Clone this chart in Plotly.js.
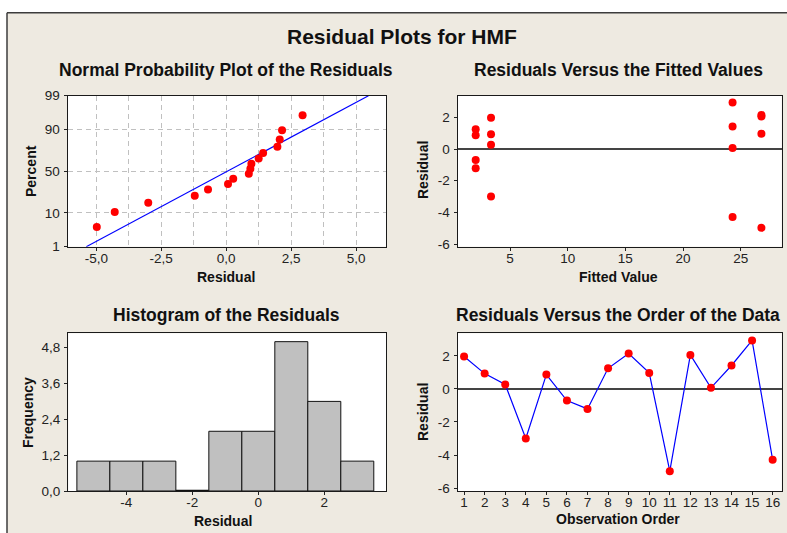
<!DOCTYPE html>
<html><head><meta charset="utf-8">
<script src="https://cdn.plot.ly/plotly-3.0.1.min.js"></script>
<style>html,body{margin:0;padding:0;background:#fff}#chart{width:787px;height:533px}</style>
</head><body><div id="chart"></div>
<script>
// ---- data ----
const observation = [1,2,3,4,5,6,7,8,9,10,11,12,13,14,15,16];
const residuals = [1.97,0.93,0.27,-3.00,0.87,-0.70,-1.21,1.25,2.15,0.97,-4.98,2.06,0.07,1.42,2.94,-4.29];
const fittedValues = [3.35,3.35,3.35,3.35,2.02,2.02,2.02,2.02,26.8,26.8,26.8,26.8,24.3,24.3,24.3,24.3];

const percentTicks = [1,10,50,90,99];
const percentLabels = ['1','10','50','90','99'];
const nppXTicks = [-5,-2.5,0,2.5,5];
const nppXLabels = ['-5,0','-2,5','0,0','2,5','5,0'];
const fitXTicks = [5,10,15,20,25];
const fitXLabels = ['5','10','15','20','25'];
const residTicks = [-6,-4,-2,0,2];
const residLabels = ['-6','-4','-2','0','2'];
const histXTicks = [-4,-2,0,2];
const histXLabels = ['-4','-2','0','2'];
const freqTicks = [0,1.2,2.4,3.6,4.8];
const freqLabels = ['0,0','1,2','2,4','3,6','4,8'];
const orderLabels = observation.map(String);
const histBinStart = -5.5, histBinEnd = 3.5, histBinSize = 1;

// ---- helpers ----
function normInv(p){
 const a=[-3.969683028665376e+01,2.209460984245205e+02,-2.759285104469687e+02,1.383577518672690e+02,-3.066479806614716e+01,2.506628277459239e+00];
 const b=[-5.447609879822406e+01,1.615858368580409e+02,-1.556989798598866e+02,6.680131188771972e+01,-1.328068155288572e+01];
 const c=[-7.784894002430293e-03,-3.223964580411365e-01,-2.400758277161838e+00,-2.549732539343734e+00,4.374664141464968e+00,2.938163982698783e+00];
 const d=[7.784695709041462e-03,3.224671290700398e-01,2.445134137142996e+00,3.754408661907416e+00];
 const pl=0.02425, ph=1-pl; let q,r;
 if(p<pl){q=Math.sqrt(-2*Math.log(p));return (((((c[0]*q+c[1])*q+c[2])*q+c[3])*q+c[4])*q+c[5])/((((d[0]*q+d[1])*q+d[2])*q+d[3])*q+1);}
 if(p<=ph){q=p-0.5;r=q*q;return (((((a[0]*r+a[1])*r+a[2])*r+a[3])*r+a[4])*r+a[5])*q/(((((b[0]*r+b[1])*r+b[2])*r+b[3])*r+b[4])*r+1);}
 q=Math.sqrt(-2*Math.log(1-p));return -(((((c[0]*q+c[1])*q+c[2])*q+c[3])*q+c[4])*q+c[5])/((((d[0]*q+d[1])*q+d[2])*q+d[3])*q+1);
}
const n = residuals.length;
const sorted = residuals.slice().sort((u,v)=>u-v);
const nppZ = sorted.map((v,i)=>normInv((i+1-0.3)/(n+0.4)));
const mean = residuals.reduce((s,v)=>s+v,0)/n;
const sd = Math.sqrt(residuals.reduce((s,v)=>s+(v-mean)*(v-mean),0)/(n-1));
const zLo = normInv(percentTicks[0]/100), zHi = normInv(percentTicks[percentTicks.length-1]/100);
const lineZ = [zLo, zHi];
const lineX = lineZ.map(z=>mean+sd*z);

// zero-count histogram bins (drawn as flat outlines)
const zeroBinShapes = [];
for(let e=histBinStart; e<histBinEnd-1e-9; e+=histBinSize){
  const cnt = residuals.filter(v=>v>=e && v<e+histBinSize).length;
  if(cnt===0) zeroBinShapes.push({type:'line',xref:'x3',yref:'y3',x0:e,x1:e+histBinSize,y0:0,y1:0,line:{color:'#111',width:2.5},layer:'above'});
}

// ---- layout helpers ----
const W=787,H=533;
const FONT='Liberation Sans, Arial, sans-serif';
const px=x=>x/W, py=y=>1-y/H;
const tickfont={family:FONT,size:13.5,color:'#222'};
function ax(extra){
  return Object.assign({showline:true,mirror:true,linecolor:'#1a1a1a',linewidth:1.2,ticks:'outside',ticklen:3,tickcolor:'#222',
    tickfont:tickfont,showgrid:false,zeroline:false,tickmode:'array',fixedrange:true},extra);
}
function xax(extra){ return ax(Object.assign({ticklabelstandoff:-4},extra)); }
function yax(extra){ return ax(Object.assign({ticklabelstandoff:1},extra)); }
const GRID='#c0c0c0', GDASH='5px,4px';
function ann(text,x,y,size,angle){
  return {text:'<b>'+text+'</b>',xref:'paper',yref:'paper',x:px(x),y:py(y),xanchor:'center',yanchor:'middle',
    showarrow:false,textangle:angle||0,font:{family:FONT,size:size,color:'#111'}};
}

const traces = [
  {type:'scatter',mode:'lines',x:lineX,y:lineZ,xaxis:'x',yaxis:'y',line:{color:'#0000ff',width:1.2},hoverinfo:'skip'},
  {type:'scatter',mode:'markers',x:sorted,y:nppZ,xaxis:'x',yaxis:'y',marker:{color:'#ff0000',size:8}},
  {type:'scatter',mode:'markers',x:fittedValues,y:residuals,xaxis:'x2',yaxis:'y2',marker:{color:'#ff0000',size:8}},
  {type:'histogram',x:residuals,xaxis:'x3',yaxis:'y3',xbins:{start:histBinStart,end:histBinEnd,size:histBinSize},
    marker:{color:'#c0c0c0',line:{color:'#111',width:1}}},
  {type:'scatter',mode:'lines+markers',x:observation,y:residuals,xaxis:'x4',yaxis:'y4',
    line:{color:'#0000ff',width:1.2},marker:{color:'#ff0000',size:8}}
];

const dom1x=[px(67.7),px(386)], dom2x=[px(457.7),px(781.7)];
const domTop=[py(246.7),py(95.7)], domBot=[py(491),py(333.3)];
const dom3x=[px(68.3),px(386)];

const layout = {
  width:W,height:H,margin:{l:0,r:0,t:0,b:0},
  paper_bgcolor:'#eeeae1',plot_bgcolor:'#ffffff',showlegend:false,
  font:{family:FONT,color:'#222'},
  xaxis: xax({domain:dom1x,anchor:'y',range:[-6.1,6.15],tickvals:nppXTicks,ticktext:nppXLabels,
    showgrid:true,gridcolor:GRID,griddash:GDASH,gridwidth:1,
    minor:{tickmode:'linear',tick0:0,dtick:1.25,showgrid:true,gridcolor:GRID,griddash:GDASH,gridwidth:1,ticks:''}}),
  yaxis: yax({domain:domTop,anchor:'x',range:[zLo,zHi],tickvals:percentTicks.map(p=>normInv(p/100)),ticktext:percentLabels,
    showgrid:true,gridcolor:GRID,griddash:GDASH,gridwidth:1}),
  xaxis2: xax({domain:dom2x,anchor:'y2',range:[0.46,28.56],tickvals:fitXTicks,ticktext:fitXLabels}),
  yaxis2: yax({domain:domTop,anchor:'x2',range:[-6.17,3.37],tickvals:residTicks,ticktext:residLabels,
    zeroline:true,zerolinecolor:'#444',zerolinewidth:1.3}),
  xaxis3: xax({domain:dom3x,anchor:'y3',range:[-5.76,3.87],tickvals:histXTicks,ticktext:histXLabels}),
  yaxis3: yax({domain:domBot,anchor:'x3',range:[0,5.28],tickvals:freqTicks,ticktext:freqLabels}),
  xaxis4: xax({domain:dom2x,anchor:'y4',range:[0.69,16.44],tickvals:observation,ticktext:orderLabels}),
  yaxis4: yax({domain:domBot,anchor:'x4',range:[-6.18,3.37],tickvals:residTicks,ticktext:residLabels,
    zeroline:true,zerolinecolor:'#444',zerolinewidth:1.3}),
  bargap:0,
  shapes: [
    {type:'rect',xref:'paper',yref:'paper',x0:0,x1:1,y0:py(12.7),y1:1,fillcolor:'#ffffff',line:{width:0},layer:'above'},
    {type:'rect',xref:'paper',yref:'paper',x0:0,x1:px(7),y0:0,y1:1,fillcolor:'#ffffff',line:{width:0},layer:'above'},
    {type:'line',xref:'paper',yref:'paper',x0:px(7),x1:1.01,y0:py(12.7),y1:py(12.7),line:{color:'#3c3c3c',width:1.5},layer:'above'},
    {type:'line',xref:'paper',yref:'paper',x0:px(7),x1:px(7),y0:-0.01,y1:py(12.7),line:{color:'#3c3c3c',width:1.5},layer:'above'}
  ].concat(zeroBinShapes),
  annotations: [
    ann('Residual Plots for HMF',401.7,36.5,21),
    ann('Normal Probability Plot of the Residuals',225.8,70,17.5),
    ann('Residuals Versus the Fitted Values',618,70,17.5),
    ann('Histogram of the Residuals',226,314.5,17.5),
    ann('Residuals Versus the Order of the Data',618,314.5,17.5),
    ann('Percent',31,171,14,-90),
    ann('Residual',225.5,277,14),
    ann('Residual',423,170,14,-90),
    ann('Fitted Value',618,277,14),
    ann('Frequency',27.5,412.5,14,-90),
    ann('Residual',223,521,14),
    ann('Residual',423,412,14,-90),
    ann('Observation Order',618,519,14)
  ]
};
Plotly.newPlot('chart',traces,layout,{staticPlot:true,displayModeBar:false});
</script></body></html>
